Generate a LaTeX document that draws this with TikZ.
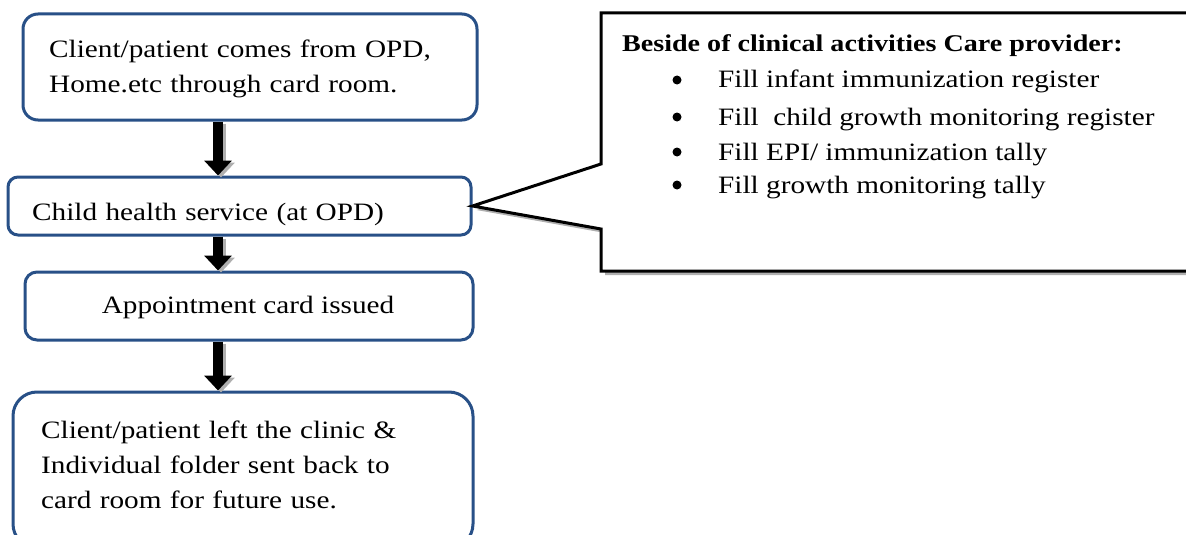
\documentclass[tikz,border=0pt]{standalone}
\usepackage{fontspec}
\setmainfont{Liberation Serif}[FakeStretch=1.17]
\usetikzlibrary{arrows.meta}
\definecolor{boxblue}{RGB}{40,80,135}
\definecolor{shadowgray}{RGB}{175,175,175}
\begin{document}
\begin{tikzpicture}[x=1pt,y=-1pt,
  flowbox/.style={draw=boxblue, line width=3pt, fill=white, rectangle, inner sep=0pt},
  boxtext/.style={anchor=base west, inner sep=0pt, align=left, text width=440pt,
    font=\fontsize{25}{35}\selectfont},
  flowarrow/.style={line width=10pt, -{Triangle[width=27pt,length=15pt]}},
  calline/.style={draw=black, line width=3pt, fill=white, line join=miter},
  calhead/.style={anchor=base west, inner sep=0pt, font=\fontsize{24}{30}\selectfont\bfseries},
  calitem/.style={anchor=base west, inner sep=0pt, font=\fontsize{25}{30}\selectfont},
  calbullet/.style={circle, fill=black, inner sep=0pt, minimum size=9pt}
]
\useasboundingbox (0,0) rectangle (1186,535);
\clip (0,0) rectangle (1186,535);

% flow boxes
\node[flowbox, rounded corners=15pt, minimum width=454pt, minimum height=106pt] (b1) at (250,67) {};
\node[flowbox, rounded corners=10pt, minimum width=463pt, minimum height=58pt] (b2) at (239.5,206) {};
\node[flowbox, rounded corners=12pt, minimum width=448pt, minimum height=68pt] (b3) at (249,306) {};
\node[flowbox, rounded corners=24pt, minimum width=460pt, minimum height=156pt] (b4) at (243,470) {};

% texts
\node[boxtext] (t1) at (49,58) {Client/patient comes from OPD,\\Home.etc through card room.};
\node[boxtext] (t2) at (32,220) {Child health service (at OPD)};
\node[boxtext, anchor=base, text width=, align=center] (t3) at (248,313) {Appointment card issued};
\node[boxtext] (t4) at (41,438) {Client/patient left the clinic \&\\Individual folder sent back to\\card room for future use.};

% block arrows
\coordinate (ax) at (218,0);
\foreach \a/\b in {b1/b2, b2/b3, b3/b4}{
  \draw[flowarrow, color=shadowgray, transform canvas={xshift=3pt,yshift=-2pt}] (\a.south -| ax) -- (\b.north -| ax);
  \draw[flowarrow, color=black] (\a.south -| ax) -- (\b.north -| ax);
}

% callout
\node[minimum width=599pt, minimum height=258pt, inner sep=0pt, outer sep=0pt] (cal) at (900.5,142) {};
\coordinate (j1) at (601,164);
\coordinate (j2) at (601,229);
\fill[shadowgray, transform canvas={xshift=4pt,yshift=-4pt}]
  (cal.north west) -- (cal.north east) -- (cal.south east) -- (cal.south west) -- (j2) -- (b2.east) -- (j1) -- cycle;
\filldraw[calline]
  (cal.north west) -- (cal.north east) -- (cal.south east) -- (cal.south west) -- (j2) -- (b2.east) -- (j1) -- cycle;

\node[calhead] (h) at (622,52) {Beside of clinical activities Care provider:};
\foreach \y/\t [count=\i] in {88/{Fill infant immunization register},
                  125/{Fill\ \ child growth monitoring register},
                  160/{Fill EPI/ immunization tally},
                  193/{Fill growth monitoring tally}}{
  \node[calbullet] (d\i) at (677,{\y-8}) {};
  \node[calitem] (i\i) at (718,\y) {\t};
}
\end{tikzpicture}
\end{document}
